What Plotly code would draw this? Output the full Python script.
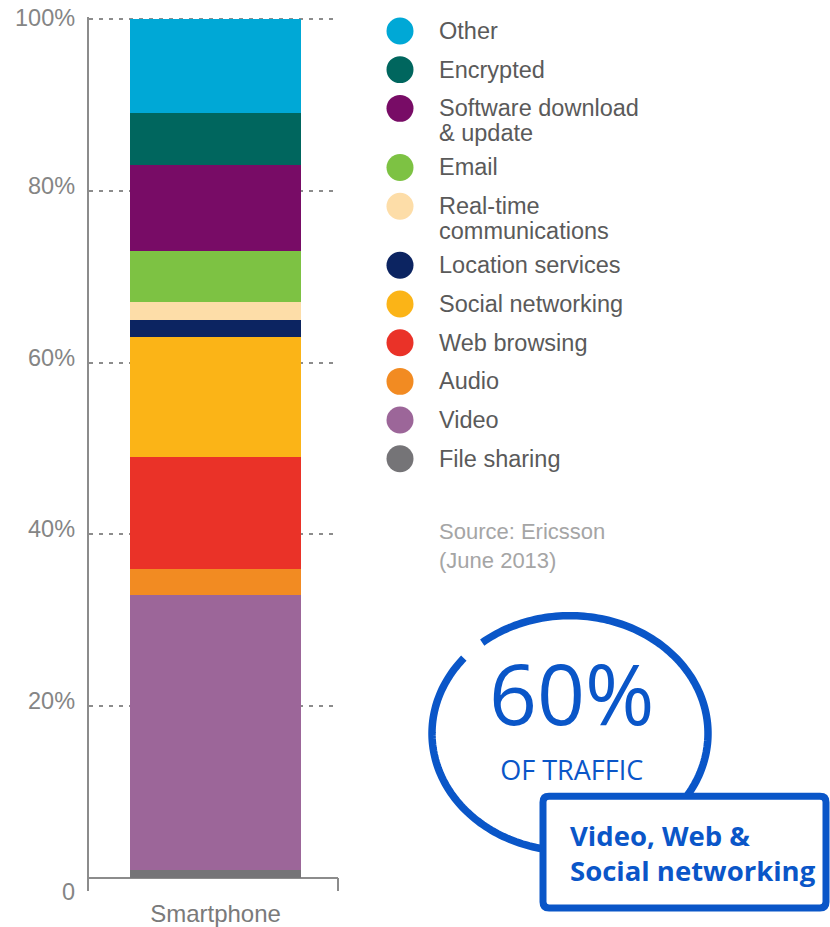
import numpy as np
import plotly.graph_objects as go

W, H = 830, 927

# ---------------- data ----------------
categories = ["Smartphone"]
series_names = ["File sharing", "Video", "Audio", "Web browsing", "Social networking",
                "Location services", "Real-time communications", "Email",
                "Software download & update", "Encrypted", "Other"]
series_values = [1, 32, 3, 13, 14, 2, 2, 6, 10, 6, 11]
series_colors = ["#757477", "#9C6699", "#F28B22", "#EA3228", "#FBB417",
                 "#0C2461", "#FDDDA8", "#7DC243", "#780C66", "#00665E", "#00A8D6"]
legend_labels = ["File sharing", "Video", "Audio", "Web browsing", "Social networking",
                 "Location services", "Real-time<br>communications", "Email",
                 "Software download<br>& update", "Encrypted", "Other"]
tick_values = [0, 20, 40, 60, 80, 100]
tick_labels = ["0", "20%", "40%", "60%", "80%", "100%"]
source_lines = ["Source: Ericsson", "(June 2013)"]
callout_big = "60%"
callout_small = "OF TRAFFIC"
callout_box_lines = ["Video, Web &", "Social networking"]

# ---------------- geometry helpers ----------------
BLUE = "#0A56C8"
AXIS_GRAY = "#8c8c8c"
PX_PER_UNIT = 8.61
Y_ZERO_PX = 880


def px(x):
    return x / W


def py(y):
    return 1 - y / H


y_bottom_px, y_top_px = 893, 17
y_range = [-(y_bottom_px - Y_ZERO_PX) / PX_PER_UNIT, (Y_ZERO_PX - y_top_px) / PX_PER_UNIT]
x_left_px, x_right_px = 89, 338
bar_center_px, bar_width_px = 215.5, 171
span = x_right_px - x_left_px
frac_center = (bar_center_px - x_left_px) / span
x_range = [-frac_center, 1 - frac_center]

fig = go.Figure()
for name, val, col in zip(series_names, series_values, series_colors):
    fig.add_trace(go.Bar(
        x=categories, y=[val], name=name, marker=dict(color=col, line=dict(width=0)),
        width=bar_width_px / span, showlegend=False,
        hovertemplate=name + ": %{y}%<extra></extra>"))

shapes = []
annotations = []

# right end tick of baseline
shapes.append(dict(type="line", xref="paper", yref="paper",
                   x0=px(x_right_px), x1=px(x_right_px), y0=py(Y_ZERO_PX), y1=py(y_bottom_px),
                   line=dict(color=AXIS_GRAY, width=2)))

# y tick labels
for v, t in zip(tick_values, tick_labels):
    shift = 5
    if v == 100:
        shift = 1
    if v == 0:
        shift = -14
    annotations.append(dict(x=px(77), xref="paper", y=v, yref="y", text=t,
                            xanchor="right", yanchor="middle", yshift=shift, showarrow=False,
                            font=dict(family="Liberation Sans", size=23.5, color="#858585")))

# custom legend (top to bottom: reversed stacking order)
cursor = 31.0
for lab, col in zip(legend_labels[::-1], series_colors[::-1]):
    r = 13.5
    shapes.append(dict(type="circle", xref="paper", yref="paper",
                       x0=px(400 - r), x1=px(400 + r), y0=py(cursor + r), y1=py(cursor - r),
                       fillcolor=col, line=dict(width=0)))
    lines = lab.split("<br>")
    for k, ln in enumerate(lines):
        annotations.append(dict(x=px(437), y=py(cursor + 24.5 * k), xref="paper", yref="paper",
                                text=ln, xanchor="left", yanchor="middle", showarrow=False,
                                font=dict(family="Liberation Sans", size=23.5, color="#5a5a5a")))
    cursor += 38.8 + 20.4 * (len(lines) - 1)

# source
for k, s in enumerate(source_lines):
    annotations.append(dict(x=px(437), y=py(533 + 29 * k), xref="paper", yref="paper",
                            text=s, xanchor="left", yanchor="middle", showarrow=False,
                            font=dict(family="Liberation Sans", size=22, color="#a5a5a5")))

# callout arc
cx, cy, rx, ry = 570, 735, 138, 118
th = np.radians(np.linspace(230.5, 579.7, 240))
ax = cx + rx * np.cos(th)
ay = cy + ry * np.sin(th)
path = "M " + " L ".join(f"{px(a):.5f},{py(b):.5f}" for a, b in zip(ax, ay))
shapes.append(dict(type="path", xref="paper", yref="paper", path=path,
                   line=dict(color=BLUE, width=7.5)))

# callout box with rounded corners
bx0, bx1, by0, by1, rc = 543, 826, 798, 910, 6
pts = [
    ("M", bx0 + rc, by0), ("L", bx1 - rc, by0), ("Q", bx1, by0, bx1, by0 + rc),
    ("L", bx1, by1 - rc), ("Q", bx1, by1, bx1 - rc, by1), ("L", bx0 + rc, by1),
    ("Q", bx0, by1, bx0, by1 - rc), ("L", bx0, by0 + rc), ("Q", bx0, by0, bx0 + rc, by0),
]
segs = []
for p in pts:
    if p[0] == "Q":
        segs.append(f"Q {px(p[1]):.5f},{py(p[2]):.5f} {px(p[3]):.5f},{py(p[4]):.5f}")
    else:
        segs.append(f"{p[0]} {px(p[1]):.5f},{py(p[2]):.5f}")
shapes.append(dict(type="path", xref="paper", yref="paper", path=" ".join(segs) + " Z",
                   fillcolor="white", line=dict(color=BLUE, width=7)))

# big figure + subtitle as one two-line text
callout_text = (f"<span style='font-size:84px'>{callout_big}</span><br>"
                f"<span style='font-size:27px'>{callout_small}</span>")
annotations.append(dict(x=px(572), y=py(713), xref="paper", yref="paper", text=callout_text,
                        xanchor="center", yanchor="middle", showarrow=False, align="center",
                        font=dict(family="Open Sans", size=42.5, color=BLUE)))
for k, s in enumerate(callout_box_lines):
    annotations.append(dict(x=px(568), y=py(837 + 35 * k), xref="paper", yref="paper",
                            text="<b>" + s + "</b>", xanchor="left", yanchor="middle",
                            showarrow=False,
                            font=dict(family="Open Sans", size=27.5, color=BLUE)))

fig.update_layout(
    width=W, height=H, margin=dict(l=0, r=0, t=0, b=0),
    paper_bgcolor="white", plot_bgcolor="white",
    barmode="stack", showlegend=False,
    xaxis=dict(domain=[px(x_left_px), px(x_right_px)], range=x_range, type="category",
               showgrid=False, zeroline=False, showline=False, ticks="",
               ticklabelstandoff=6,
               tickfont=dict(family="Liberation Sans", size=24, color="#7a7a7a"),
               fixedrange=True),
    yaxis=dict(domain=[py(y_bottom_px), py(y_top_px)], range=y_range,
               tickvals=tick_values, showticklabels=False, ticks="",
               showgrid=True, gridcolor=AXIS_GRAY, gridwidth=1.5, griddash="4px,6px",
               zeroline=True, zerolinecolor=AXIS_GRAY, zerolinewidth=2,
               showline=True, linecolor=AXIS_GRAY, linewidth=2, fixedrange=True),
    shapes=shapes, annotations=annotations,
)

fig.write_html("out.html")
